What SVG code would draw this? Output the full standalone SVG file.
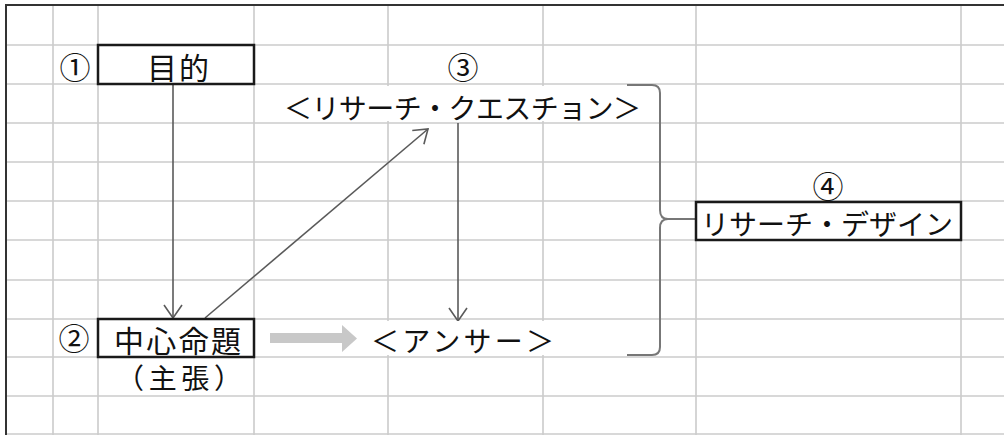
<svg xmlns="http://www.w3.org/2000/svg" width="1004" height="435" viewBox="0 0 1004 435">
<style>
.grid line{stroke:#cbcbcb;stroke-width:1.6}
.box{fill:#fff;stroke:#1a1a1a;stroke-width:2.5}
.t{font-family:"Noto Sans CJK JP","Noto Sans CJK SC",sans-serif;font-size:28px;fill:#111}
.n{font-family:"Noto Sans CJK JP","Noto Sans CJK SC",sans-serif;font-size:31px;fill:#111;text-anchor:middle}
.arr{stroke:#5a5a5a;stroke-width:1.6;fill:none}
</style>
<defs>
<marker id="ah" markerUnits="userSpaceOnUse" viewBox="0 0 15 20" refX="14" refY="10" markerWidth="15" markerHeight="20" orient="auto">
<path d="M1,1 L14,10 L1,19" fill="none" stroke="#5a5a5a" stroke-width="1.6"/>
</marker>
</defs>
<rect width="1004" height="435" fill="#fff"/>
<g class="grid">
<line x1="53" y1="5" x2="53" y2="435"/>
<line x1="98" y1="5" x2="98" y2="435"/>
<line x1="254" y1="5" x2="254" y2="435"/>
<line x1="388" y1="5" x2="388" y2="435"/>
<line x1="543" y1="5" x2="543" y2="435"/>
<line x1="696" y1="5" x2="696" y2="435"/>
<line x1="961" y1="5" x2="961" y2="435"/>
<line x1="6" y1="45" x2="1004" y2="45"/>
<line x1="6" y1="84" x2="1004" y2="84"/>
<line x1="6" y1="123" x2="1004" y2="123"/>
<line x1="6" y1="162" x2="1004" y2="162"/>
<line x1="6" y1="201" x2="1004" y2="201"/>
<line x1="6" y1="240" x2="1004" y2="240"/>
<line x1="6" y1="280" x2="1004" y2="280"/>
<line x1="6" y1="319" x2="1004" y2="319"/>
<line x1="6" y1="357" x2="1004" y2="357"/>
<line x1="6" y1="396" x2="1004" y2="396"/>
<line x1="6" y1="434" x2="1004" y2="434"/>
</g>
<line x1="5" y1="5" x2="1004" y2="5" stroke="#333" stroke-width="2"/>
<line x1="6" y1="5" x2="6" y2="435" stroke="#333" stroke-width="2"/>
<g id="connectors">
<line class="arr" x1="173" y1="85" x2="173" y2="318" marker-end="url(#ah)"/>
<line class="arr" x1="205" y1="318" x2="428" y2="129" marker-end="url(#ah)"/>
<line class="arr" x1="458" y1="123" x2="458" y2="321" marker-end="url(#ah)"/>
<polygon points="270,333 342,333 342,325 357,338.5 342,352 342,343 270,343" fill="#c8c8c8"/>
<path d="M627,85 L652,85 Q660,85 660,93 L660,210 Q660,219 668,219 L696,219 M668,219 Q660,219 660,228 L660,347 Q660,355 652,355 L627,355" fill="none" stroke="#777" stroke-width="2"/>
</g>
<g id="node1">
<text class="n" x="75" y="79">①</text>
<rect class="box" x="98" y="45" width="156" height="39"/>
<text class="t" x="147" y="79" style="font-size:30px" textLength="62" lengthAdjust="spacing">目的</text>
</g>
<g id="node2">
<text class="n" x="74" y="350">②</text>
<rect class="box" x="98" y="319" width="156" height="38"/>
<text class="t" x="114" y="352" style="font-size:30px" textLength="127" lengthAdjust="spacing">中心命題</text>
<text class="t" x="179" y="389" text-anchor="middle" textLength="126" lengthAdjust="spacing">（主張）</text>
</g>
<g id="node3">
<text class="n" x="463" y="79">③</text>
<rect x="270" y="86" width="356" height="35" fill="#fff"/>
<text class="t" x="284" y="119" textLength="357" lengthAdjust="spacing">＜リサーチ・クエスチョン＞</text>
</g>
<g id="node-answer">
<rect x="362" y="321" width="256" height="34" fill="#fff"/>
<text class="t" x="371" y="352" textLength="183" lengthAdjust="spacing">＜アンサー＞</text>
</g>
<g id="node4">
<text class="n" x="828" y="198">④</text>
<rect class="box" x="696" y="202" width="265" height="38"/>
<text class="t" x="701" y="235" textLength="252" lengthAdjust="spacing">リサーチ・デザイン</text>
</g>
</svg>
